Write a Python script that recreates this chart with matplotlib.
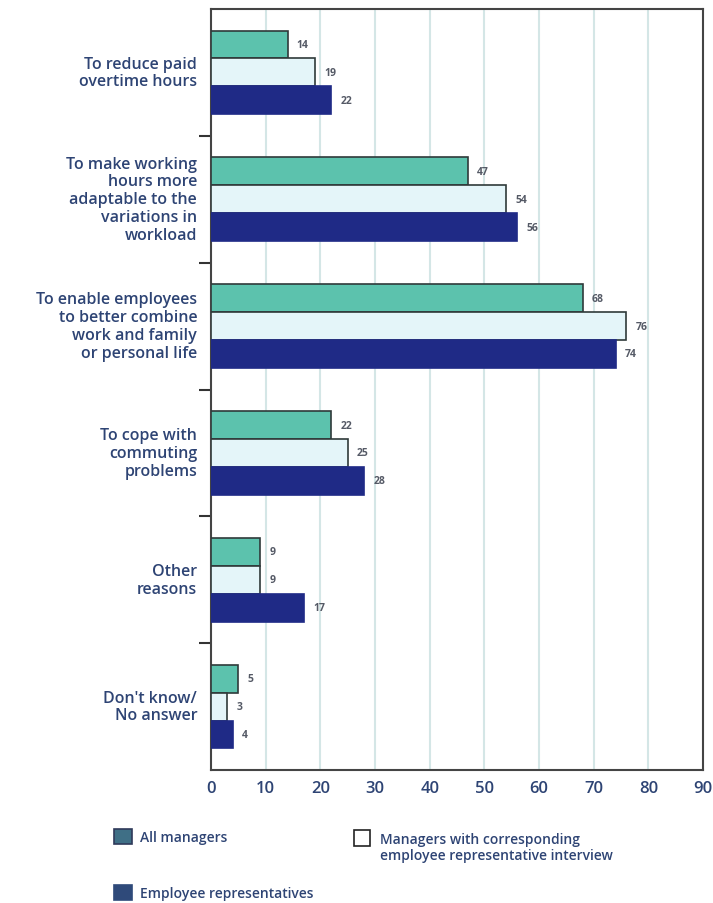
import matplotlib
matplotlib.use("Agg")
import matplotlib.pyplot as plt
from matplotlib.patches import Rectangle
import numpy as np

categories = [
    "To reduce paid\novertime hours",
    "To make working\nhours more\nadaptable to the\nvariations in\nworkload",
    "To enable employees\nto better combine\nwork and family\nor personal life",
    "To cope with\ncommuting\nproblems",
    "Other\nreasons",
    "Don't know/\nNo answer",
]
all_managers = [14, 47, 68, 22, 9, 5]
managers_corr = [19, 54, 76, 25, 9, 3]
employee_reps = [22, 56, 74, 28, 17, 4]
series_names = ["All managers",
                "Managers with corresponding\nemployee representative interview",
                "Employee representatives"]
xticks = [0, 10, 20, 30, 40, 50, 60, 70, 80, 90]

plt.rcParams['font.family'] = ['Open Sans', 'DejaVu Sans']

TEAL = "#5cc2ad"
LIGHT = "#e4f5f9"
NAVY = "#1f2a86"
TXT = "#2e4474"
EDGE = "#2f3a3a"

fig = plt.figure(figsize=(7.13, 9.04), dpi=100)
ax = fig.add_axes([211/713, 1-771/904, (703-211)/713, (771-10)/904])

n = len(categories)
centers = np.arange(n) + 0.5
h = 0.22
series = [all_managers, managers_corr, employee_reps]
faces = [TEAL, LIGHT, NAVY]
edges = [EDGE, EDGE, NAVY]
for k, (vals, fc, ec) in enumerate(zip(series, faces, edges)):
    ys = centers + (k - 1) * h
    ax.barh(ys, vals, height=h, color=fc, edgecolor=ec, linewidth=1.2, zorder=3)
    for y, v in zip(ys, vals):
        ax.text(v + 1.7, y, str(v), va='center', ha='left', fontsize=7.5,
                fontweight='bold', color="#555a66", zorder=4)

ax.set_ylim(n, 0)
ax.set_xlim(0, 90)
ax.set_xticks(xticks)
ax.set_xticklabels([str(t) for t in xticks], fontsize=12, fontweight='semibold', color=TXT)
ax.tick_params(axis='x', length=0, pad=7)
ax.set_yticks(np.arange(1, n))
ax.set_yticklabels([])
ax.tick_params(axis='y', length=9, width=1.5, color="#333333", direction='out')
for c, lab in zip(centers, categories):
    ax.text(-0.028, c, lab, transform=ax.get_yaxis_transform(), ha='right', va='center',
            fontsize=11.5, fontweight='semibold', color=TXT, linespacing=1.15)

for t in xticks[1:-1]:
    ax.axvline(t, color="#d4e6e6", linewidth=1.5, zorder=1)

for s in ['left', 'bottom', 'right', 'top']:
    ax.spines[s].set_color("#444444")
    ax.spines[s].set_linewidth(1.5)

# legend
def px(x, y):
    return x/713, 1 - y/904

def legend_box(x0, y0, w, hgt, fc, ec):
    fx, fy = px(x0, y0 + hgt)
    fig.patches.append(Rectangle((fx, fy), w/713, hgt/904, transform=fig.transFigure,
                                 facecolor=fc, edgecolor=ec, linewidth=1.2))

legend_box(114, 830, 18, 15, "#3f6f86", "#2f3a5a")
fig.text(*px(140, 838), series_names[0], ha='left', va='center', fontsize=10,
         fontweight='semibold', color=TXT)
legend_box(354, 831, 16, 16, "white", "#222222")
fig.text(*px(380, 848), series_names[1], ha='left', va='center', fontsize=10,
         fontweight='semibold', color=TXT, linespacing=1.25)
legend_box(114, 886, 18, 15, "#2f4a7a", "#2f4a7a")
fig.text(*px(140, 894), series_names[2], ha='left', va='center', fontsize=10,
         fontweight='semibold', color=TXT)

fig.savefig("out.png", dpi=100)
